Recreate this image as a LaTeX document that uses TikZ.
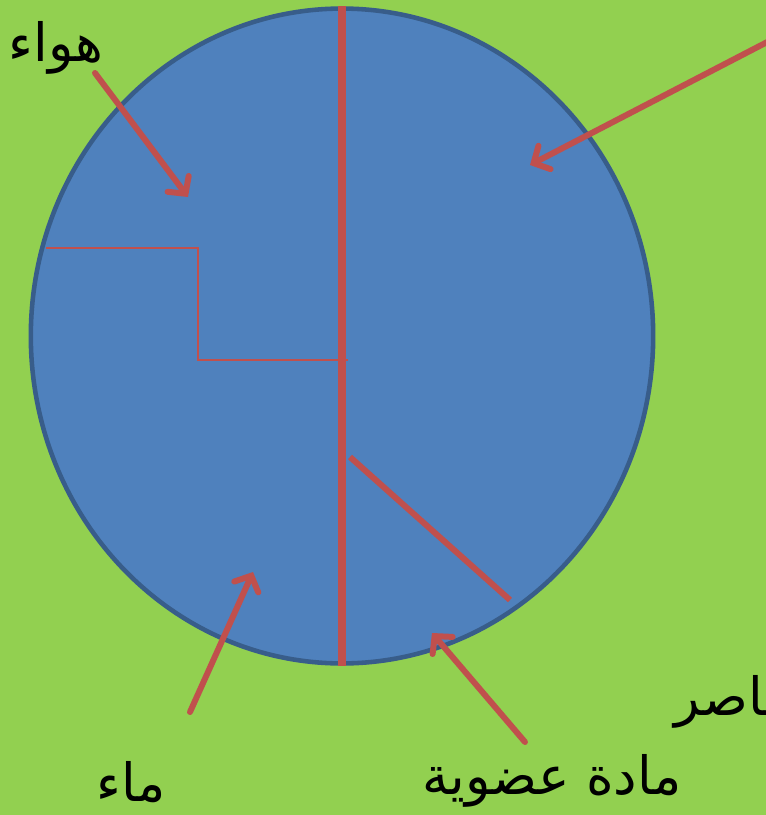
\documentclass[tikz,border=0pt]{standalone}
\usepackage{fontspec}
\TeXXeTstate=1
\newfontfamily\arabicfont[Script=Arabic]{DejaVu Sans}
\usepackage{tikz}
\usetikzlibrary{shapes.geometric, arrows.meta, positioning}
\definecolor{soilGreen}{RGB}{146, 208, 80}
\definecolor{soilBlue}{RGB}{79, 129, 189}
\definecolor{soilEdge}{RGB}{56, 93, 138}
\definecolor{soilRed}{RGB}{192, 80, 77}

\begin{document}
\begin{tikzpicture}[x=0.02cm, y=-0.02cm,
  soil/.style={ellipse, draw=soilEdge, fill=soilBlue, line width=2.6pt,
               minimum width=12.45cm, minimum height=13.1cm, inner sep=0pt},
  lbl/.style={font=\arabicfont\fontsize{30}{36}\selectfont, text=black, inner sep=0pt},
  arrow/.style={soilRed, line width=3.4pt, line cap=round,
                -{Straight Barb[length=7pt, width=15pt, line cap=round]}},
  split/.style={soilRed, line width=4.5pt},
  part/.style={soilRed, line width=1.2pt},
]
  % page and background
  \clip (0,0) rectangle (766,815);
  \fill[soilGreen] (0,0) rectangle (766,815);

  \node[soil] (soil) at (342,336) {};

  % labels
  \node[lbl] (air) at (56,48) {\beginR هواء\endR};
  \node[lbl] (water) at (131,782) {\beginR ماء\endR};
  \node[lbl] (organic) at (552,781) {\beginR مادة عضوية\endR};
  \node[lbl, anchor=west] (mineral) at (674,702) {\beginR عناصر\endR};

  % dividing lines
  \draw[split] (soil.north) -- (soil.south);
  \draw[part] (46,248) -| (198,360) -- (348,360);
  \coordinate (cutA) at (350,457);
  \coordinate (cutB) at (510,600);
  \draw[soilRed, line width=3.4pt] (cutA) -- (cutB);

  % arrows
  \coordinate (airTail) at (95,73);
  \coordinate (airTip) at (188,197);
  \coordinate (minTail) at (775,38);
  \coordinate (minTip) at (530,165);
  \coordinate (waterTail) at (190,712);
  \coordinate (waterTip) at (253,572);
  \coordinate (orgTail) at (525,742);
  \coordinate (orgTip) at (432,633);
  \draw[arrow] (airTail) -- (airTip);
  \draw[arrow] (minTail) -- (minTip);
  \draw[arrow] (waterTail) -- (waterTip);
  \draw[arrow] (orgTail) -- (orgTip);
\end{tikzpicture}
\end{document}
